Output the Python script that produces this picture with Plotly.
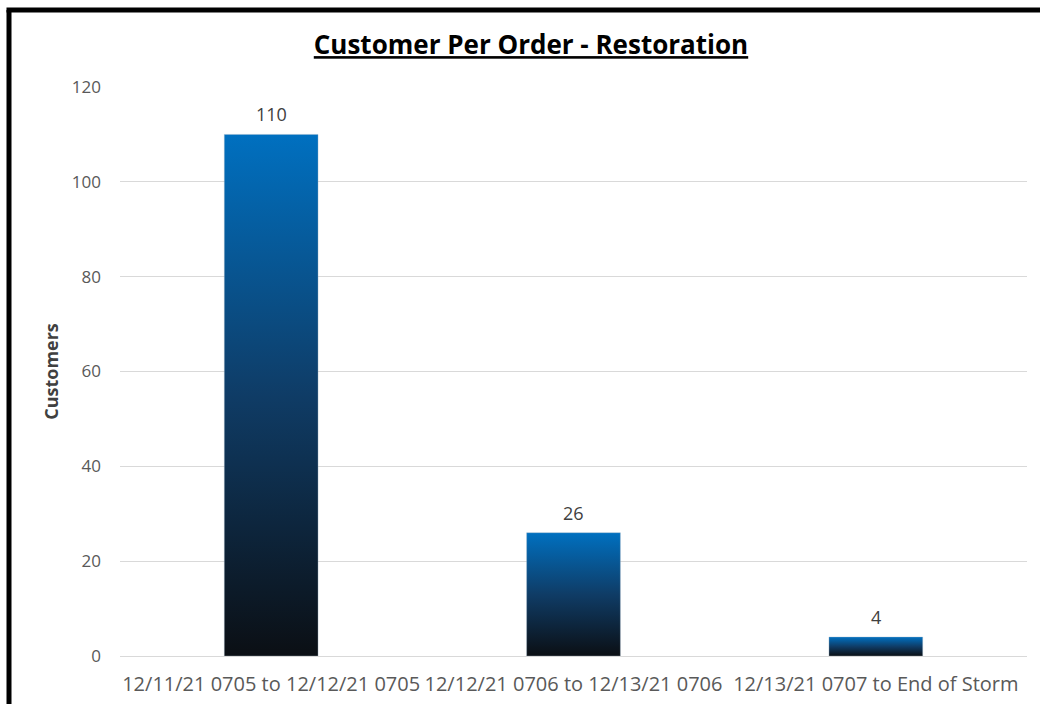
import plotly.graph_objects as go

categories = ["12/11/21 0705 to 12/12/21 0705",
              "12/12/21 0706 to 12/13/21 0706",
              "12/13/21 0707 to End of Storm"]
customers = [110, 26, 4]
y_ticks = [0, 20, 40, 60, 80, 100, 120]

W, H = 1040, 704
L, R, T, B = 120, 13, 87, 48
PW, PH = W - L - R, H - T - B
bar_width = 0.31
FONT = "Open Sans, DejaVu Sans, sans-serif"

fig = go.Figure()
for i, v in enumerate(customers):
    x0, x1 = i - bar_width / 2, i + bar_width / 2
    fig.add_trace(go.Scatter(
        x=[x0, x0, x1, x1, x0], y=[0, v, v, 0, 0],
        mode="lines", line=dict(width=0.6, color="rgba(160,180,200,0.6)"),
        fill="toself",
        fillgradient=dict(type="vertical", start=0, stop=v,
                          colorscale=[[0, "#0b0f14"], [0.5, "#0f3c66"], [1, "#0070c0"]]),
        hoverinfo="skip", showlegend=False))

for i, v in enumerate(customers):
    fig.add_annotation(x=i, y=v, text=str(v), showarrow=False,
                       yanchor="middle", yshift=20,
                       font=dict(family=FONT, size=18, color="#404040"))

# outer frame (partial black border of the original picture)
fx = (9 - L) / PW
fy = 1 + (T - 10) / PH
fig.add_shape(type="line", xref="paper", yref="paper",
              x0=fx - 2.5 / PW, x1=(W + 10 - L) / PW, y0=fy, y1=fy,
              line=dict(color="black", width=5))
fig.add_shape(type="line", xref="paper", yref="paper",
              x0=fx, x1=fx, y0=fy, y1=-(B + 10) / PH,
              line=dict(color="black", width=5))

fig.update_layout(
    width=W, height=H,
    margin=dict(l=L, r=R, t=T, b=B, autoexpand=False),
    paper_bgcolor="white", plot_bgcolor="white",
    title=dict(text="<b><u>Customer Per Order - Restoration</u></b>",
               x=531 / W, xanchor="center", xref="container",
               y=1 - 45 / H, yanchor="middle", yref="container",
               font=dict(family=FONT, size=26, color="black")),
    xaxis=dict(range=[-0.5, 2.5], tickmode="array",
               tickvals=list(range(len(categories))), ticktext=categories,
               showgrid=False, zeroline=False, showline=False, ticks="",
               ticklabelstandoff=14, automargin=False,
               tickfont=dict(family=FONT, size=20, color="#595959")),
    yaxis=dict(range=[0, 120], tickmode="array", tickvals=y_ticks,
               showgrid=True, gridcolor="#d9d9d9", gridwidth=1,
               zeroline=True, zerolinecolor="#d9d9d9", zerolinewidth=1,
               showline=False, ticks="", ticklabelstandoff=18, automargin=False,
               tickfont=dict(family=FONT, size=17, color="#595959")),
)
fig.update_yaxes(title=dict(text="<b>Customers</b>", standoff=8,
                            font=dict(family=FONT, size=18, color="#404040")))

fig.write_html("out.html", config={"displayModeBar": False},
               post_script="document.body.style.margin='0px';document.body.style.overflow='hidden';")
